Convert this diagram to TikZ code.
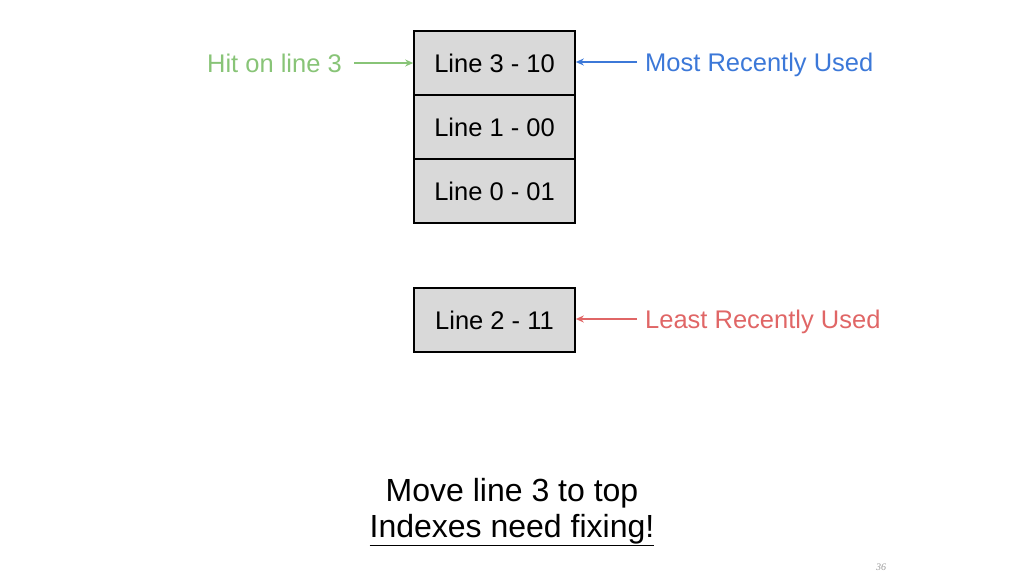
\documentclass[tikz,border=0pt]{standalone}
\usepackage{fontspec}
\setmainfont{Liberation Sans}
\newfontfamily\pagefont{Liberation Serif}
\usetikzlibrary{arrows.meta}

\definecolor{hitgreen}{HTML}{88C477}
\definecolor{mrublue}{HTML}{3C78D8}
\definecolor{lrured}{HTML}{E06666}
\definecolor{cellgray}{HTML}{D9D9D9}

\tikzset{
  cell/.style={draw=black, line width=1.6pt, fill=cellgray,
    minimum width=161pt, minimum height=64pt, inner sep=0pt,
    font=\fontsize{25.5}{30}\selectfont},
  tag/.style={inner sep=0pt, text depth=0pt, font=\fontsize{25.5}{30}\selectfont},
  pointer/.style={line width=1.6pt, -{Stealth[length=8pt,width=7pt]}},
}

\begin{document}
\begin{tikzpicture}[x=1pt,y=-1pt]
    \useasboundingbox (0,0) rectangle (1024,576);
    \def\cx{494.5}

    % the cache set, MRU on top
    \node[cell] (l3) at (\cx,63) {Line 3 - 10};
    \node[cell] (l1) at (\cx,127) {Line 1 - 00};
    \node[cell] (l0) at (\cx,191) {Line 0 - 01};
    \node[cell] (l2) at (\cx,320) {Line 2 - 11};

    \node[tag, hitgreen, anchor=east] (hit) at (342,63) {Hit on line 3};
    \node[tag, mrublue, anchor=west] (mru) at (645,62) {Most Recently Used};
    \node[tag, lrured, anchor=west] (lru) at (645,319) {Least Recently Used};

    \draw[pointer, hitgreen, shorten <=12pt] (hit.east) -- (hit.east -| l3.west);
    \draw[pointer, mrublue, shorten <=8pt] (mru.west) -- (mru.west -| l3.east);
    \draw[pointer, lrured, shorten <=8pt] (lru.west) -- (lru.west -| l2.east);

    \node[tag, font=\fontsize{32}{36}\selectfont] (move) at (512,490) {Move line 3 to top};
    \node[tag, font=\fontsize{32}{36}\selectfont] (fix) at (512,526) {\underline{Indexes need fixing!}};

    \node[gray!80, font=\pagefont\itshape\fontsize{10}{11}\selectfont] (page) at (881,567) {36};
  \end{tikzpicture}
\end{document}
